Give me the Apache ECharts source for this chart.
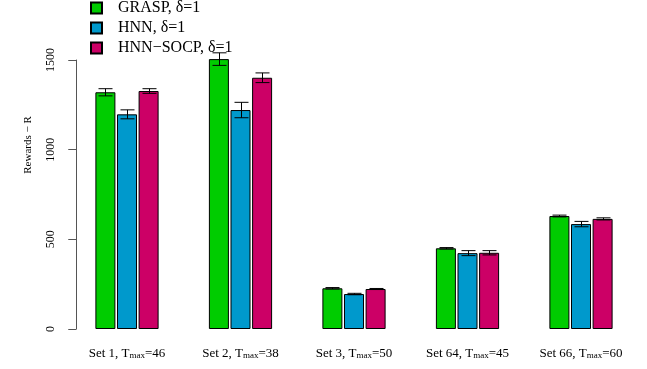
<!DOCTYPE html>
<html><head><meta charset="utf-8">
<script src="https://cdn.jsdelivr.net/npm/echarts@6/dist/echarts.min.js"></script>
<style>html,body{margin:0;padding:0;background:#fff}#c{width:647px;height:369px}</style>
</head><body><div id="c"></div>
<script>
var setNames = ['Set 1', 'Set 2', 'Set 3', 'Set 64', 'Set 66'];
var tmaxValues = [46, 38, 50, 45, 60];
var seriesNames = ['GRASP, δ=1', 'HNN, δ=1', 'HNN−SOCP, δ=1'];
var graspMean = [1320, 1505, 227, 450, 630];
var graspErr  = [20, 35, 4, 4, 5];
var hnnMean   = [1197, 1221, 195, 423, 585];
var hnnErr    = [25, 43, 4, 14, 15];
var socpMean  = [1327, 1401, 223, 425, 614];
var socpErr   = [13, 27, 3, 12, 6];
var yTicks = [0, 500, 1000, 1500];

var colors = ['#00CC00', '#0099CC', '#CC0066'];
var means = [graspMean, hnnMean, socpMean];
var errs = [graspErr, hnnErr, socpErr];
var categories = setNames.map(function (s, i) { return s + ', T{sub|max}=' + tmaxValues[i]; });
var BW = 20, GAP = '8%';

var chart = echarts.init(document.getElementById('c'), null, {renderer: 'canvas'});
var series = [];
means.forEach(function (m, k) {
  series.push({
    name: seriesNames[k], type: 'bar', data: m, barWidth: BW, barGap: GAP, clip: false,
    itemStyle: {color: colors[k], borderColor: '#000', borderWidth: 1},
    emphasis: {disabled: true}, animation: false
  });
});
means.forEach(function (m, k) {
  series.push({
    type: 'custom', clip: false, animation: false, z: 5,
    encode: {x: 0, y: 1},
    data: m.map(function (v, i) { return [i, v, errs[k][i]]; }),
    renderItem: function (params, api) {
      var x = api.value(0), v = api.value(1), e = api.value(2);
      var hi = api.coord([x, v + e]), lo = api.coord([x, v - e]);
      var off;
      if (api.barLayout) {
        var bl = api.barLayout({barWidth: BW, barGap: GAP, count: 3});
        off = bl[k].offsetCenter;
      } else { off = (k - 1) * (BW * 1.08); }
      var cx = Math.round(hi[0] + off) + 0.5;
      var hw = 7;
      var st = {stroke: '#000', lineWidth: 1};
      return {type: 'group', children: [
        {type: 'line', shape: {x1: cx, y1: hi[1], x2: cx, y2: lo[1]}, style: st},
        {type: 'line', shape: {x1: cx - hw, y1: hi[1], x2: cx + hw, y2: hi[1]}, style: st},
        {type: 'line', shape: {x1: cx - hw, y1: lo[1], x2: cx + hw, y2: lo[1]}, style: st}
      ]};
    }
  });
});

chart.setOption({
  animation: false,
  textStyle: {fontFamily: 'Liberation Serif'},
  grid: {left: 70.25, right: 9.25, top: 60, bottom: 40, containLabel: false},
  legend: {
    orient: 'vertical', left: 90, top: 0, itemWidth: 11, itemHeight: 11, itemGap: 4,
    icon: 'rect', data: seriesNames, padding: 0,
    textStyle: {fontFamily: 'Liberation Serif', fontSize: 16, color: '#000', padding: [0, 0, 0, 11]}
  },
  xAxis: {
    type: 'category', data: categories,
    axisLine: {show: false}, axisTick: {show: false},
    axisLabel: {
      interval: 0, margin: 18, color: '#000', fontSize: 13, fontFamily: 'Liberation Serif',
      rich: {sub: {fontSize: 9, verticalAlign: 'bottom', padding: [4, 0, 0, 0], fontFamily: 'Liberation Serif', color: '#000'}}
    }
  },
  yAxis: {
    type: 'value', min: yTicks[0], max: yTicks[yTicks.length - 1], interval: 500, offset: -6,
    splitLine: {show: false},
    axisLine: {show: true, lineStyle: {color: '#555', width: 1}},
    axisTick: {show: true, length: 8, lineStyle: {color: '#555'}},
    axisLabel: {rotate: 90, margin: 19, color: '#000', fontSize: 12, fontFamily: 'Liberation Serif',
      formatter: function (v) { return String(v); }}
  },
  graphic: [{
    type: 'text', x: 28, y: 145, rotation: Math.PI / 2,
    style: {text: 'Rewards − R', font: '11px "Liberation Serif"', fill: '#000', align: 'center', verticalAlign: 'middle'}
  }],
  series: series
});
</script></body></html>
